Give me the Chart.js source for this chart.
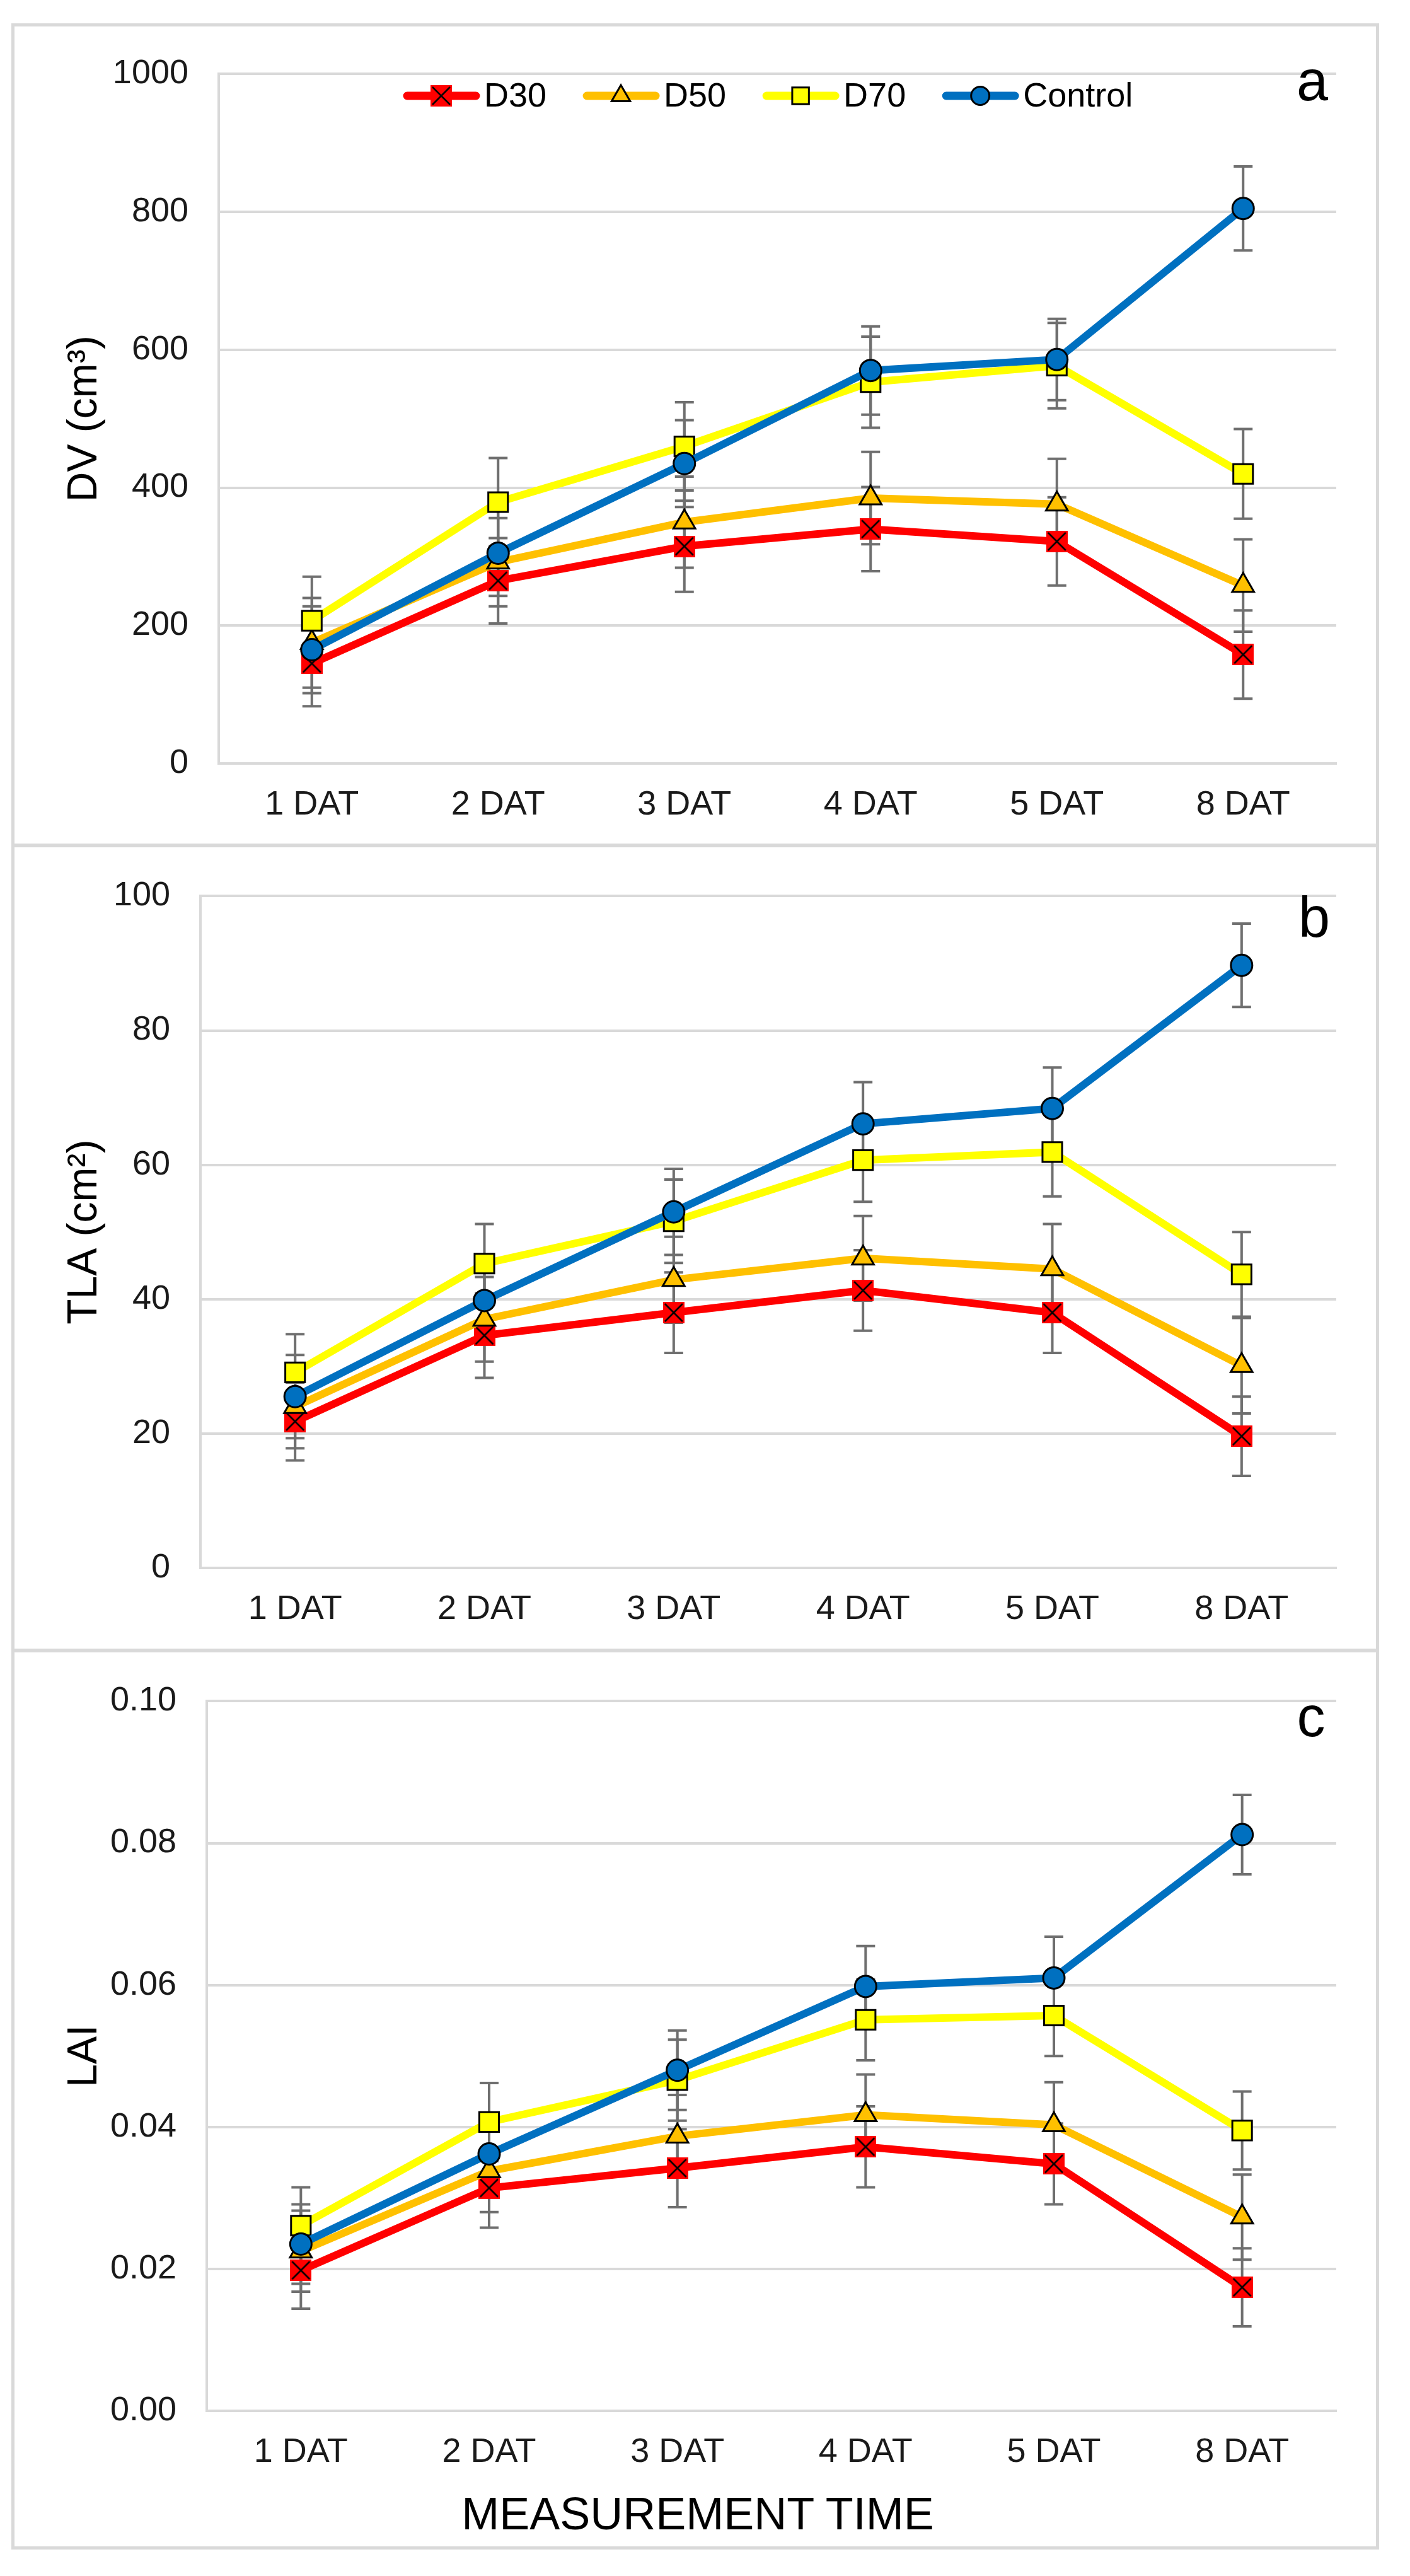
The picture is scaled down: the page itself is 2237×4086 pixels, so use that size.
<!DOCTYPE html>
<html>
<head>
    <script src="https://cdn.jsdelivr.net/npm/chart.js"></script>
    <style>
        body {
            margin: 0;
            background-color: white;
            font-family: "Liberation Sans", Arial, sans-serif;
        }

        .page {
            position: relative;
            width: 2237px;
            height: 4086px;
        }

        .panel {
            position: absolute;
            left: 18px;
            width: 2170px;
            box-sizing: border-box;
            border: 5px solid #d9d9d9;
        }

        canvas {
            position: absolute;
            left: 0;
        }

        .letter {
            position: absolute;
            font-size: 90px;
            line-height: 90px;
            color: #000;
            transform: translate(-50%, -50%);
        }

        .xtitle {
            position: absolute;
            left: 1107px;
            top: 3987px;
            font-size: 72px;
            color: #000;
            transform: translate(-50%, -50%);
            white-space: nowrap;
        }
    </style>
</head>
<body>
<div class="page">
    <div class="panel" style="top:37px; height:1306px;"></div>
    <div class="panel" style="top:1339px; height:1281px;"></div>
    <div class="panel" style="top:2616px; height:1428px;"></div>

    <canvas id="chartA" width="2237" height="1304" style="top:37px; width:2237px; height:1304px;"></canvas>
    <canvas id="chartB" width="2237" height="1277" style="top:1341px; width:2237px; height:1277px;"></canvas>
    <canvas id="chartC" width="2237" height="1424" style="top:2618px; width:2237px; height:1424px;"></canvas>

    <div class="letter" style="left:2082px; top:128px;">a</div>
    <div class="letter" style="left:2085px; top:1455px;">b</div>
    <div class="letter" style="left:2080px; top:2723px;">c</div>
    <div class="xtitle">MEASUREMENT TIME</div>
</div>

<script>
    // categories
    const days = ["1 DAT", "2 DAT", "3 DAT", "4 DAT", "5 DAT", "8 DAT"];
    const seriesNames = ["D30", "D50", "D70", "Control"];

    // a: DV (cm3)
    const dvD30 = [145, 265, 315, 340, 322, 158];
    const dvD50 = [175, 292, 350, 385, 376, 258];
    const dvD70 = [207, 379, 460, 553, 577, 420];
    const dvControl = [165, 305, 435, 570, 586, 805];
    const dvErrD30 = [62, 62, 66, 61, 64, 64];
    const dvErrD50 = [65, 64, 66, 67, 66, 67];
    const dvErrD70 = [64, 64, 64, 66, 62, 65];
    const dvErrControl = [63, 62, 63, 64, 59, 61];

    // b: TLA (cm2)
    const tlaD30 = [21.8, 34.6, 38.0, 41.3, 38.0, 19.6];
    const tlaD50 = [24.0, 37.0, 42.9, 46.1, 44.5, 30.1];
    const tlaD70 = [29.1, 45.3, 51.6, 60.7, 61.9, 43.7];
    const tlaControl = [25.5, 39.8, 53.0, 66.1, 68.4, 89.7];
    const tlaErrD30 = [5.8, 6.3, 6.0, 6.0, 6.0, 5.9];
    const tlaErrD50 = [6.2, 6.3, 6.4, 6.3, 6.7, 7.1];
    const tlaErrD70 = [5.7, 5.9, 6.2, 6.2, 6.6, 6.3];
    const tlaErrControl = [6.2, 6.3, 6.4, 6.2, 6.1, 6.2];

    // c: LAI
    const laiD30 = [0.0198, 0.0314, 0.0342, 0.0372, 0.0348, 0.0174];
    const laiD50 = [0.0225, 0.0338, 0.0387, 0.0417, 0.0403, 0.0273];
    const laiD70 = [0.0261, 0.0407, 0.0466, 0.0551, 0.0557, 0.0395];
    const laiControl = [0.0235, 0.0362, 0.0480, 0.0598, 0.0610, 0.0812];
    const laiErrD30 = [0.0054, 0.0056, 0.0055, 0.0057, 0.0057, 0.0055];
    const laiErrD50 = [0.0057, 0.0058, 0.0058, 0.0057, 0.0060, 0.0060];
    const laiErrD70 = [0.0054, 0.0055, 0.0057, 0.0057, 0.0057, 0.0055];
    const laiErrControl = [0.0056, 0.0055, 0.0056, 0.0057, 0.0058, 0.0056];

    const FONT = "'Liberation Sans', Arial, sans-serif";

    // red box with a black X, like the Excel marker
    function makeXMarker() {
        let c = document.createElement("canvas");
        c.width = 34;
        c.height = 34;
        let g = c.getContext("2d");
        g.fillStyle = "#ff0000";
        g.fillRect(0, 0, 34, 34);
        g.strokeStyle = "#000";
        g.lineWidth = 2.5;
        g.beginPath();
        g.moveTo(3, 3); g.lineTo(31, 31);
        g.moveTo(31, 3); g.lineTo(3, 31);
        g.stroke();
        return c;
    }
    const xMarker = makeXMarker();

    const seriesStyle = [
        { color: "#ff0000", fill: "#ff0000", pointStyle: xMarker, radius: 17, order: 4 },
        { color: "#ffc000", fill: "#ffc000", pointStyle: "triangle", radius: 20, order: 3 },
        { color: "#ffff00", fill: "#ffff00", pointStyle: "rect", radius: 22, order: 2 },
        { color: "#0070c0", fill: "#0070c0", pointStyle: "circle", radius: 17, order: 1 }
    ];

    function makeDatasets(values, errors) {
        return values.map((vals, i) => ({
            label: seriesNames[i],
            data: vals,
            errors: errors[i],
            borderColor: seriesStyle[i].color,
            backgroundColor: seriesStyle[i].fill,
            borderWidth: 12,
            tension: 0,
            pointStyle: seriesStyle[i].pointStyle,
            pointRadius: seriesStyle[i].radius,
            pointBackgroundColor: seriesStyle[i].fill,
            pointBorderColor: "#000",
            pointBorderWidth: 3,
            order: seriesStyle[i].order
        }));
    }

    // error bars drawn under the lines
    const errorBars = {
        id: "errorBars",
        beforeDatasetsDraw(chart) {
            let ctx = chart.ctx;
            let y = chart.scales.y;
            ctx.save();
            ctx.strokeStyle = "#6f6f6f";
            ctx.lineWidth = 4;
            chart.data.datasets.forEach((ds, i) => {
                let meta = chart.getDatasetMeta(i);
                meta.data.forEach((pt, j) => {
                    let v = ds.data[j], e = ds.errors[j];
                    let top = y.getPixelForValue(v + e);
                    let bot = y.getPixelForValue(v - e);
                    ctx.beginPath();
                    ctx.moveTo(pt.x, top); ctx.lineTo(pt.x, bot);
                    ctx.moveTo(pt.x - 15, top); ctx.lineTo(pt.x + 15, top);
                    ctx.moveTo(pt.x - 15, bot); ctx.lineTo(pt.x + 15, bot);
                    ctx.stroke();
                });
            });
            ctx.restore();
        }
    };

    // legend with line + marker samples, inside the plot of panel a
    const lineLegend = {
        id: "lineLegend",
        afterDraw(chart, args, opts) {
            if (!opts.show) return;
            let ctx = chart.ctx;
            let x = opts.x, yc = opts.y;
            ctx.save();
            ctx.font = "54px " + FONT;
            ctx.textBaseline = "middle";
            chart.data.datasets.forEach(ds => {
                ctx.strokeStyle = ds.borderColor;
                ctx.lineWidth = 13;
                ctx.lineCap = "round";
                ctx.beginPath();
                ctx.moveTo(x + 6, yc);
                ctx.lineTo(x + 115, yc);
                ctx.stroke();
                ctx.fillStyle = ds.pointBackgroundColor;
                ctx.strokeStyle = "#000";
                ctx.lineWidth = 3;
                Chart.helpers.drawPoint(ctx, {
                    pointStyle: ds.pointStyle,
                    radius: ds.pointRadius * 0.85,
                    rotation: 0,
                    borderWidth: 3
                }, x + 60, yc);
                ctx.fillStyle = "#000";
                ctx.fillText(ds.label, x + 128, yc + 2);
                x += 128 + ctx.measureText(ds.label).width + 58;
            });
            ctx.restore();
        }
    };

    function makeChart(id, opt) {
        let ctx = document.getElementById(id).getContext("2d");
        return new Chart(ctx, {
            type: "line",
            data: {
                labels: days,
                datasets: makeDatasets(opt.values, opt.errors)
            },
            options: {
                responsive: false,
                animation: false,
                devicePixelRatio: 1,
                layout: { padding: { top: opt.padTop, right: 117, bottom: 0, left: 0 } },
                plugins: {
                    legend: { display: false },
                    tooltip: { enabled: false },
                    lineLegend: { show: opt.legend, x: 640, y: 115 }
                },
                scales: {
                    x: {
                        offset: true,
                        grid: { display: false, drawTicks: false },
                        border: { display: true, color: "#d9d9d9", width: 4 },
                        ticks: {
                            padding: 34,
                            color: "#1a1a1a",
                            font: { family: FONT, size: 54 }
                        },
                        afterFit(scale) { scale.height = opt.xHeight; }
                    },
                    y: {
                        min: opt.min,
                        max: opt.max,
                        grid: { color: "#d9d9d9", lineWidth: 4, drawTicks: false },
                        border: { display: true, color: "#d9d9d9", width: 4 },
                        ticks: {
                            stepSize: opt.step,
                            padding: 48,
                            color: "#1a1a1a",
                            font: { family: FONT, size: 54 },
                            callback: opt.fmt
                        },
                        title: {
                            display: true,
                            text: opt.title,
                            color: "#000",
                            font: { family: FONT, size: 66 },
                            padding: { top: 95, bottom: 0 }
                        },
                        afterFit(scale) { scale.width = opt.plotLeft; }
                    }
                }
            },
            plugins: [errorBars, lineLegend]
        });
    }

    makeChart("chartA", {
        values: [dvD30, dvD50, dvD70, dvControl],
        errors: [dvErrD30, dvErrD50, dvErrD70, dvErrControl],
        min: 0, max: 1000, step: 200,
        fmt: v => v,
        title: "DV (cm³)",
        padTop: 69, xHeight: 130, plotLeft: 347, legend: true
    });

    makeChart("chartB", {
        values: [tlaD30, tlaD50, tlaD70, tlaControl],
        errors: [tlaErrD30, tlaErrD50, tlaErrD70, tlaErrControl],
        min: 0, max: 100, step: 20,
        fmt: v => v,
        title: "TLA (cm²)",
        padTop: 67, xHeight: 131, plotLeft: 318, legend: false
    });

    makeChart("chartC", {
        values: [laiD30, laiD50, laiD70, laiControl],
        errors: [laiErrD30, laiErrD50, laiErrD70, laiErrControl],
        min: 0, max: 0.1, step: 0.02,
        fmt: v => v.toFixed(2),
        title: "LAI",
        padTop: 73, xHeight: 218, plotLeft: 328, legend: false
    });
</script>
</body>
</html>
